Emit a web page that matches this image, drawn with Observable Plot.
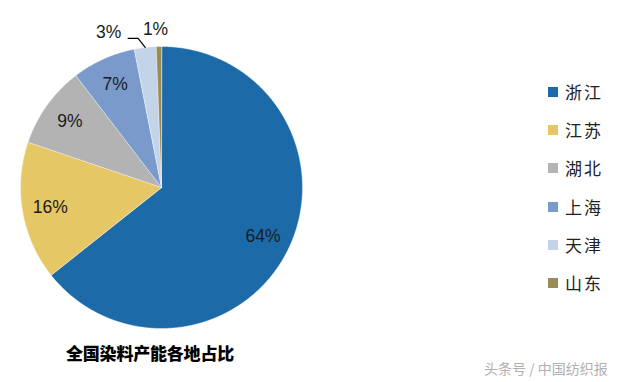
<!DOCTYPE html>
<html><head><meta charset="utf-8">
<script src="https://cdn.jsdelivr.net/npm/d3@7"></script>
<script src="https://cdn.jsdelivr.net/npm/@observablehq/plot@0.6"></script>
<style>
body{margin:0;background:#fff;}
#wrap{position:relative;width:623px;height:382px;overflow:hidden;background:#fff;}
#wrap svg{position:absolute;left:0;top:0;}
.title{position:absolute;left:66px;top:341px;font:900 17px "Noto Sans CJK SC",sans-serif;color:#000;line-height:24px;white-space:nowrap;letter-spacing:-0.2px;}
.legend{position:absolute;left:548px;top:0;font:400 17px "Noto Sans CJK SC",sans-serif;color:#222;}
.legend .row{position:absolute;left:0;height:24px;line-height:24px;white-space:nowrap;display:flex;align-items:center;}
.legend .sw{width:10px;height:10px;margin-right:7px;}
.legend .lb{letter-spacing:2px;}
.wm{position:absolute;left:484px;top:358px;font:400 14px "Noto Sans CJK SC",sans-serif;color:#b0b0b0;line-height:20px;white-space:nowrap;}
</style></head><body><div id="wrap"></div>
<script>
const regions = ["浙江","江苏","湖北","上海","天津","山东"];
const shares = [64.3, 15.9, 9.4, 7.3, 2.5, 0.6];
const labels = ["64%","16%","9%","7%","3%","1%"];
const colors = ["#1c6aa8","#e6c765","#b3b3b3","#7a9acb","#c3d3e8","#9a8c5a"];
const title = "全国染料产能各地占比";
const watermark = "头条号 / 中国纺织报";

const W = 623, H = 382, CX = 161, CY = 187, R = 141;
const data = regions.map((r, i) => ({region: r, share: shares[i], label: labels[i]}));
const arcs = d3.pie().sort(null).value(d => d.share)(data);

// slice polygons in unit coordinates (radius 1), angle clockwise from 12 o'clock
const pt = (a, r) => [r * Math.sin(a), r * Math.cos(a)];
const poly = [];
arcs.forEach(a => {
  poly.push({region: a.data.region, u: 0, v: 0});
  const n = Math.max(2, Math.ceil((a.endAngle - a.startAngle) / 0.01));
  for (let k = 0; k <= n; k++) {
    const t = a.startAngle + (a.endAngle - a.startAngle) * k / n;
    const [u, v] = pt(t, 1);
    poly.push({region: a.data.region, u, v});
  }
});

const inner = [], outerEnd = [], outerMid = [], leader = [];
arcs.forEach(a => {
  const m = (a.startAngle + a.endAngle) / 2;
  if (a.data.share >= 5) {
    const [u, v] = pt(m, 0.8);
    inner.push({label: a.data.label, u, v});
  } else if (a.data.share >= 1) {
    const [u0, v0] = pt(m, 1.0);
    const u1 = u0 - 0.05, v1 = v0 + 0.064, u2 = u1 - 0.07;
    leader.push({u: u0, v: v0}, {u: u1, v: v1}, {u: u2, v: v1});
    outerEnd.push({label: a.data.label, u: u2, v: v1});
  } else {
    const [u, v] = pt(m, 1.12);
    outerMid.push({label: a.data.label, u, v});
  }
});

const font = "Liberation Sans, Arial, sans-serif";
const chart = Plot.plot({
  width: W, height: H,
  marginTop: 0, marginRight: 0, marginBottom: 0, marginLeft: 0,
  x: {domain: [-CX / R, (W - CX) / R], axis: null},
  y: {domain: [-(H - CY) / R, CY / R], axis: null},
  color: {domain: regions, range: colors},
  style: {background: "transparent", overflow: "visible"},
  marks: [
    Plot.line(poly, {x: "u", y: "v", z: "region", fill: "region", stroke: "#ffffff", strokeWidth: 0.6, strokeOpacity: 0.7, curve: "linear-closed"}),
    Plot.line(leader, {x: "u", y: "v", stroke: "#000", strokeWidth: 1.2}),
    Plot.text(inner, {x: "u", y: "v", text: "label", fontSize: 17.5, fill: "#1b1b1b", fontFamily: font}),
    Plot.text(outerEnd, {x: "u", y: "v", text: "label", textAnchor: "end", dx: -7, dy: -6, fontSize: 17.5, fill: "#1b1b1b", fontFamily: font}),
    Plot.text(outerMid, {x: "u", y: "v", text: "label", dx: -3, fontSize: 17.5, fill: "#1b1b1b", fontFamily: font})
  ]
});

const wrap = document.getElementById("wrap");
wrap.appendChild(chart);

const t = document.createElement("div");
t.className = "title"; t.textContent = title; wrap.appendChild(t);

const lg = document.createElement("div");
lg.className = "legend";
regions.forEach((r, i) => {
  const row = document.createElement("div");
  row.className = "row";
  row.style.top = (80 + i * 38.2) + "px";
  const sw = document.createElement("span");
  sw.className = "sw"; sw.style.background = colors[i];
  const lb = document.createElement("span");
  lb.className = "lb"; lb.textContent = r;
  row.appendChild(sw); row.appendChild(lb);
  lg.appendChild(row);
});
wrap.appendChild(lg);

const wm = document.createElement("div");
wm.className = "wm"; wm.textContent = watermark; wrap.appendChild(wm);
</script>
</body></html>
